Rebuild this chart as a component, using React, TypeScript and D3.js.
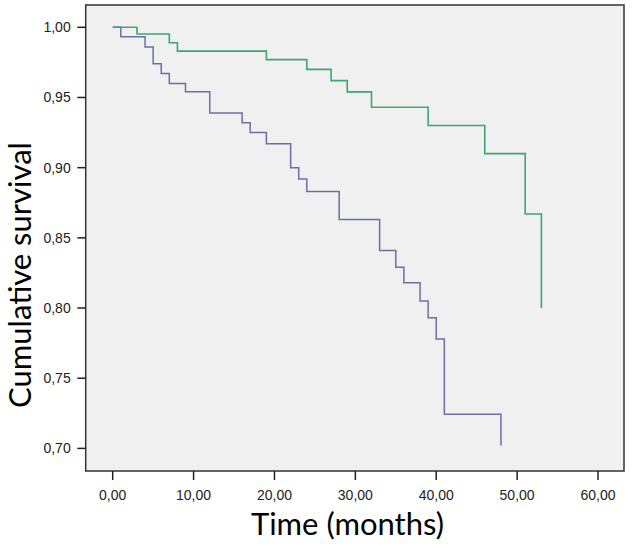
import React from "react";
import * as d3 from "d3";

const greenTimes = [0, 3, 7, 8, 19, 24, 27, 29, 32, 39, 46, 51, 53];
const greenSurvival = [1.0, 0.9952, 0.989, 0.983, 0.977, 0.97, 0.962, 0.954, 0.943, 0.93, 0.91, 0.867, 0.8];

const blueTimes = [0, 1, 4, 5, 6, 7, 9, 12, 16, 17, 19, 22, 23, 24, 28, 33, 35, 36, 38, 39, 40, 41, 48];
const blueSurvival = [1.0, 0.9933, 0.986, 0.974, 0.967, 0.96, 0.954, 0.939, 0.932, 0.925, 0.917, 0.9, 0.892, 0.883, 0.863, 0.841, 0.829, 0.818, 0.805, 0.793, 0.778, 0.7244, 0.702];

const xTicks = [0, 10, 20, 30, 40, 50, 60];
const yTicks = [0.7, 0.75, 0.8, 0.85, 0.9, 0.95, 1.0];

const xLabel = "Time (months)";
const yLabel = "Cumulative survival";

const W = 633;
const H = 546;

export default function App() {
  const x = d3.scaleLinear().domain([0, 60]).range([112.7, 598]);
  const y = d3.scaleLinear().domain([0.7, 1.0]).range([448.4, 27.3]);

  const frameLeft = 85.7;
  const frameRight = 624;
  const frameTop = 5;
  const frameBottom = 471;

  const line = d3
    .line<[number, number]>()
    .x((d) => x(d[0]))
    .y((d) => y(d[1]))
    .curve(d3.curveStepAfter);

  const greenPts: [number, number][] = greenTimes.map((t, i) => [t, greenSurvival[i]]);
  const bluePts: [number, number][] = blueTimes.map((t, i) => [t, blueSurvival[i]]);

  const fmt = (v: number) => v.toFixed(2).replace(".", ",");

  return (
    <svg
      width={W}
      height={H}
      style={{ position: "absolute", left: 0, top: 0, background: "#ffffff" }}
    >
      <rect x={0} y={0} width={W} height={H} fill="#ffffff" />
      <rect
        x={frameLeft}
        y={frameTop}
        width={frameRight - frameLeft}
        height={frameBottom - frameTop}
        fill="#f0f0f0"
        stroke="#333333"
        strokeWidth={1.5}
      />
      {/* y ticks */}
      {yTicks.map((v) => (
        <g key={"y" + v}>
          <line x1={77.3} x2={frameLeft} y1={y(v)} y2={y(v)} stroke="#222" strokeWidth={1.5} />
          <text
            x={70.7}
            y={y(v)}
            dy="0.35em"
            textAnchor="end"
            fontFamily="'Liberation Sans', Arial, sans-serif"
            fontSize={14}
            fill="#222"
          >
            {fmt(v)}
          </text>
        </g>
      ))}
      {/* x ticks */}
      {xTicks.map((t) => (
        <g key={"x" + t}>
          <line x1={x(t)} x2={x(t)} y1={frameBottom} y2={480} stroke="#222" strokeWidth={1.5} />
          <text
            x={x(t)}
            y={500}
            textAnchor="middle"
            fontFamily="'Liberation Sans', Arial, sans-serif"
            fontSize={14}
            fill="#222"
          >
            {fmt(t)}
          </text>
        </g>
      ))}
      {/* curves */}
      <path d={line(bluePts) || ""} fill="none" stroke="#6a6fa8" strokeWidth={1.5} />
      <path d={line(greenPts) || ""} fill="none" stroke="#38a96e" strokeWidth={1.6} />
      {/* axis labels */}
      <text
        x={347.5}
        y={535}
        textAnchor="middle"
        fontFamily="Lato, 'Open Sans', sans-serif"
        fontSize={31}
        fill="#000"
      >
        {xLabel}
      </text>
      <text
        transform="translate(31,275) rotate(-90)"
        textAnchor="middle"
        fontFamily="Lato, 'Open Sans', sans-serif"
        fontSize={31}
        fill="#000"
      >
        {yLabel}
      </text>
    </svg>
  );
}
